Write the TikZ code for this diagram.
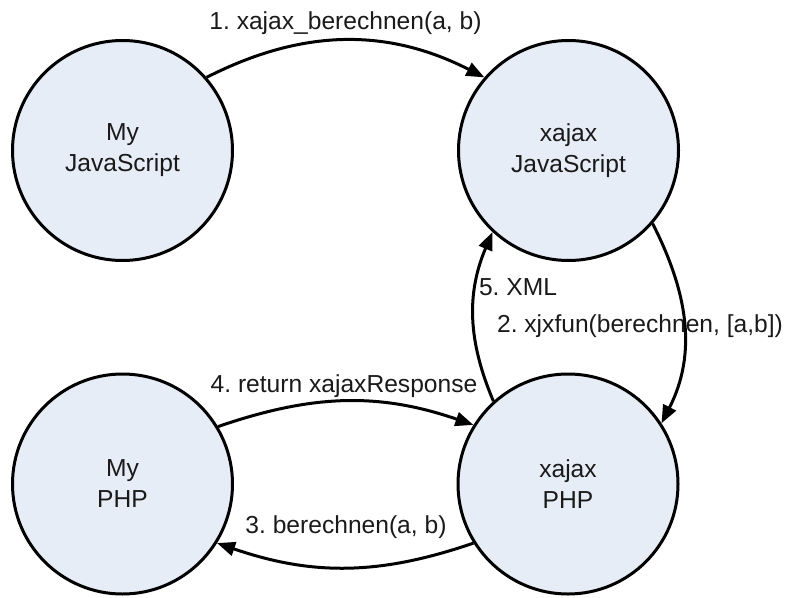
\documentclass[tikz,border=0pt]{standalone}
\usepackage{fontspec}
\setmainfont{Liberation Sans}
\usetikzlibrary{arrows.meta}
\definecolor{nodefill}{RGB}{230,237,247}
\definecolor{inktext}{RGB}{26,26,26}
\frenchspacing
\begin{document}
\begin{tikzpicture}[x=1pt,y=1pt,
  proc/.style={circle,draw=black,fill=nodefill,line width=3pt,minimum size=220pt,inner sep=0pt,align=center,text=inktext,font=\fontsize{24.6}{31}\selectfont},
  flow/.style={line width=3pt,-{Triangle[length=18pt,width=14pt]}},
  lbl/.style={font=\fontsize{24.6}{30}\selectfont,inner sep=0pt,anchor=base,text=inktext}]
\useasboundingbox (0,0) rectangle (787,-597);
\node[proc] (mjs) at (122.5,-150.5) {My\\JavaScript};
\node[proc] (xjs) at (568.5,-150.5) {xajax\\JavaScript};
\node[proc] (mphp) at (122.5,-484) {My\\PHP};
\node[proc] (xphp) at (568,-484) {xajax\\PHP};
\node[lbl] (l1) at (345.5,-29) {1. xajax\_berechnen(a, b)};
\node[lbl] (l4) at (344,-392) {4. return xajaxResponse};
\node[lbl] (l3) at (346,-533) {3. berechnen(a, b)};
\node[lbl] (l2) at (640,-332) {2. xjxfun(berechnen, [a,b])};
\node[lbl] (l5) at (518,-295) {5. XML};
\draw[flow] (mjs.41) to[out=27,in=153] (xjs.139);
\draw[flow] (mphp.31) to[out=19,in=161] (xphp.148);
\draw[flow] (xphp.212) to[out=199,in=-19] (mphp.328);
\draw[flow] (xjs.-41) to[out=-63,in=63] (xphp.33);
\draw[flow] (xphp.132) to[out=113,in=247] (xjs.227);
\end{tikzpicture}
\end{document}
